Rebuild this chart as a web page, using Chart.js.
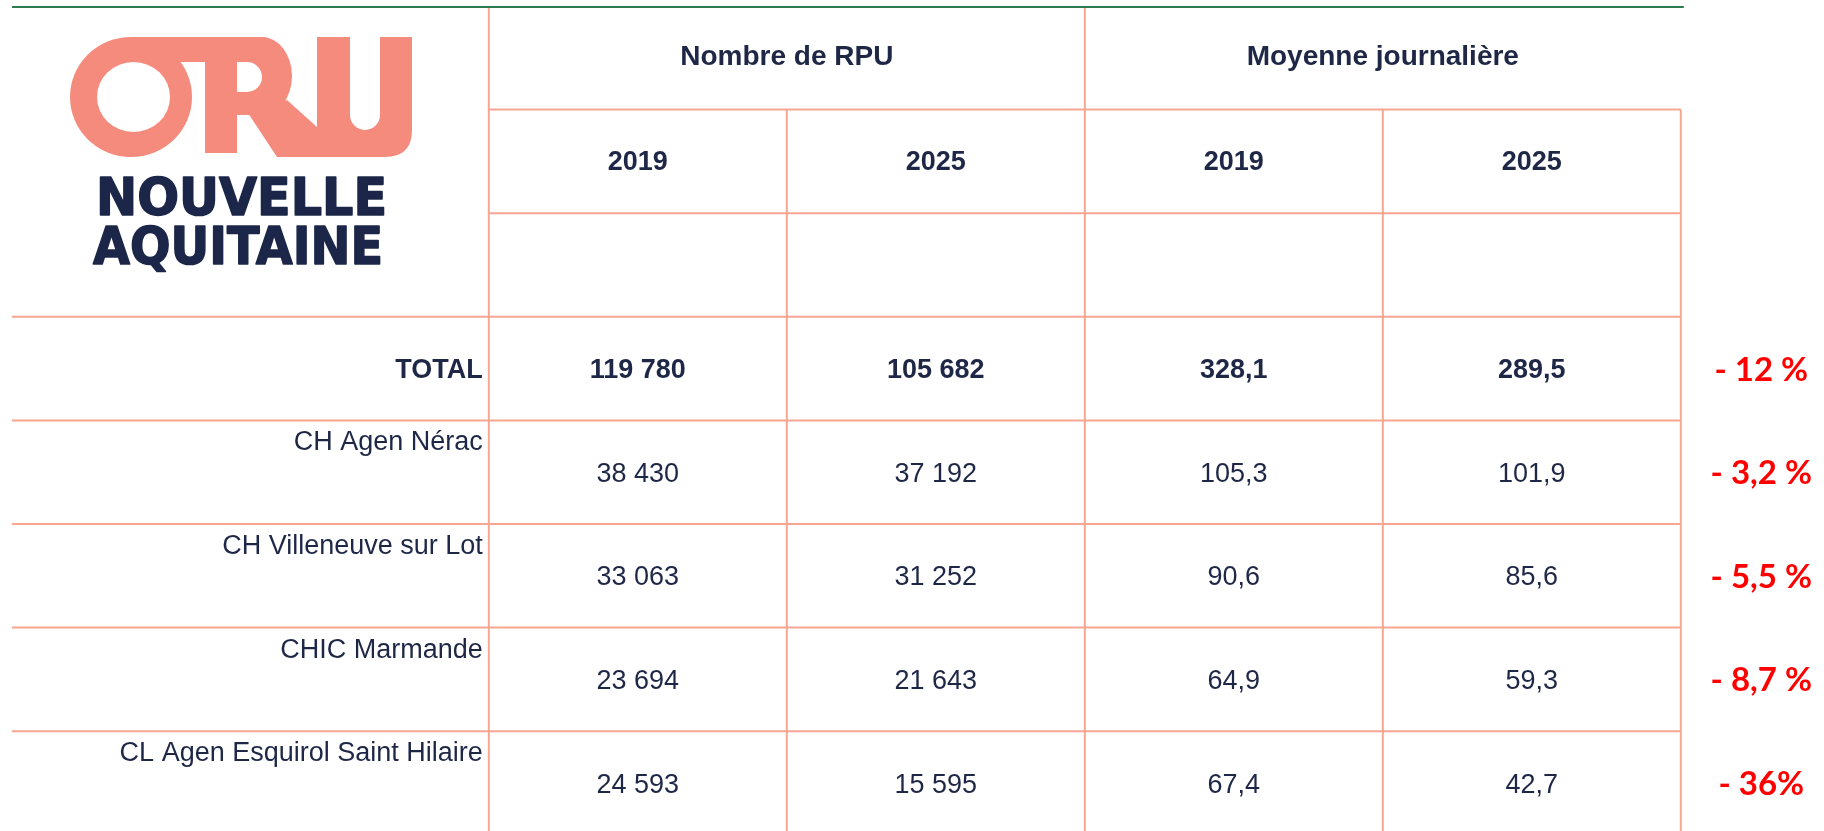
<!DOCTYPE html>
<html>
<head>
<meta charset="utf-8">
<script src="https://cdn.jsdelivr.net/npm/chart.js@4.4.1/dist/chart.umd.min.js"></script>
<style>
  html, body { margin: 0; padding: 0; background: #fff; }
  #tbl { display: block; }
</style>
</head>
<body>
<canvas id="tbl" width="1824" height="831"></canvas>
<script>
(function () {
  "use strict";

  /* ── Data ── */
  const groups = ['Nombre de RPU', 'Moyenne journalière'];
  const years = ['2019', '2025'];
  const rowLabels = ['TOTAL', 'CH Agen Nérac', 'CH Villeneuve sur Lot', 'CHIC Marmande', 'CL Agen Esquirol Saint Hilaire'];
  const rpu2019 = [119780, 38430, 33063, 23694, 24593];
  const rpu2025 = [105682, 37192, 31252, 21643, 15595];
  const moy2019 = [328.1, 105.3, 90.6, 64.9, 67.4];
  const moy2025 = [289.5, 101.9, 85.6, 59.3, 42.7];
  const evolution = ['- 12 %', '- 3,2 %', '- 5,5 %', '- 8,7 %', '- 36%'];

  /* ── Layout (scale units: one value column = 1, one row = 1) ── */
  const colEdges = [0, 1.6, 2.6, 3.6, 4.6, 5.6];
  const evoCol = 5.87;
  const bodyTop = 3;           // rows 0-2 are the header block
  const COL_PX = 298, ROW_PX = 103.6;

  const FONT = '"Liberation Sans", Arial, sans-serif';
  const NAVY = '#1e2746';
  const GRID = '#f8a592';
  const SALMON = '#f58b7d';
  const LOGO_NAVY = '#1b2648';

  /* ── Helpers ── */
  function fmtInt(v) { return String(v).replace(/\B(?=(\d{3})+(?!\d))/g, ' '); }
  function fmtDec(v) { return v.toFixed(1).replace('.', ','); }
  function colCenter(i) { return (colEdges[i] + colEdges[i + 1]) / 2; }

  function cellPoints(col) {
    return rowLabels.map((_, i) => ({ x: col, y: bodyTop + i + 0.5 }));
  }

  function textMid(ctx, str, x, yMid, size, weight, color, align) {
    ctx.font = weight + ' ' + size + 'px ' + FONT;
    ctx.fillStyle = color;
    ctx.textAlign = align;
    ctx.textBaseline = 'alphabetic';
    ctx.fillText(str, x, yMid + size * 0.716 / 2);
  }

  function fitText(ctx, str, x0, x1, baseline, font, color) {
    ctx.save();
    ctx.font = font;
    ctx.fillStyle = color;
    ctx.strokeStyle = color;
    ctx.lineWidth = 1.6;
    ctx.lineJoin = 'round';
    ctx.textAlign = 'left';
    ctx.textBaseline = 'alphabetic';
    const w = ctx.measureText(str).width;
    ctx.translate(x0, baseline);
    ctx.scale((x1 - x0) / w, 1);
    ctx.fillText(str, 0, 0);
    ctx.strokeText(str, 0, 0);
    ctx.restore();
  }

  /* ── Logo ── */
  function drawLogo(ctx) {
    ctx.save();
    ctx.fillStyle = SALMON;
    ctx.beginPath(); ctx.ellipse(131, 97, 61, 60, 0, 0, Math.PI * 2); ctx.fill();
    ctx.fillRect(131, 37, 135, 25);
    ctx.fillRect(205, 37, 32, 116);
    ctx.beginPath();
    ctx.moveTo(237, 37); ctx.lineTo(262, 37);
    ctx.ellipse(262, 76, 30, 39, 0, -Math.PI / 2, Math.PI / 2);
    ctx.lineTo(237, 115); ctx.closePath(); ctx.fill();
    ctx.beginPath();
    ctx.moveTo(246, 110); ctx.lineTo(287, 100); ctx.lineTo(317, 127);
    ctx.lineTo(317, 157); ctx.lineTo(277, 157); ctx.closePath(); ctx.fill();
    ctx.beginPath();
    ctx.moveTo(317, 37); ctx.lineTo(412, 37); ctx.lineTo(412, 130);
    ctx.quadraticCurveTo(412, 157, 385, 157); ctx.lineTo(317, 157); ctx.closePath(); ctx.fill();

    ctx.fillStyle = '#fff';
    ctx.beginPath(); ctx.ellipse(133.5, 97, 36.5, 35, 0, 0, Math.PI * 2); ctx.fill();
    ctx.beginPath();
    ctx.moveTo(237, 62); ctx.lineTo(247, 62);
    ctx.arc(247, 77, 15, -Math.PI / 2, Math.PI / 2);
    ctx.lineTo(237, 92); ctx.closePath(); ctx.fill();
    ctx.beginPath();
    ctx.moveTo(350, 30); ctx.lineTo(380, 30); ctx.lineTo(380, 115);
    ctx.arc(365, 115, 15, 0, Math.PI);
    ctx.closePath(); ctx.fill();
    ctx.restore();

    fitText(ctx, 'NOUVELLE', 96, 387, 215, 'bold 51px "DejaVu Sans"', LOGO_NAVY);
    fitText(ctx, 'AQUITAINE', 93, 383, 264, 'bold 51px "DejaVu Sans"', LOGO_NAVY);
  }

  /* ── Grid + headers + row labels ── */
  const tablePlugin = {
    id: 'tablePlugin',
    afterDraw(chart) {
      const ctx = chart.ctx;
      const xs = chart.scales.x, ys = chart.scales.y;
      const X = v => xs.getPixelForValue(v);
      const Y = v => ys.getPixelForValue(v);
      const last = colEdges.length - 1;

      ctx.save();
      ctx.lineWidth = 2;
      ctx.strokeStyle = GRID;
      function hline(r, c0, c1) {
        ctx.beginPath(); ctx.moveTo(X(c0), Y(r)); ctx.lineTo(X(c1), Y(r)); ctx.stroke();
      }
      function vline(c, r0) {
        ctx.beginPath(); ctx.moveTo(X(c), Y(r0)); ctx.lineTo(X(c), chart.chartArea.bottom); ctx.stroke();
      }
      hline(1, colEdges[1], colEdges[last]);
      hline(2, colEdges[1], colEdges[last]);
      for (let r = bodyTop; r <= bodyTop + rowLabels.length; r++) hline(r, colEdges[0], colEdges[last]);
      vline(colEdges[1], 0);
      vline(colEdges[3], 0);
      vline(colEdges[2], 1);
      vline(colEdges[4], 1);
      vline(colEdges[5], 1);

      // top green rule
      ctx.strokeStyle = '#2e7b50';
      ctx.lineWidth = 2;
      ctx.beginPath(); ctx.moveTo(X(0), Y(0) + 1); ctx.lineTo(X(colEdges[last]) + 3, Y(0) + 1); ctx.stroke();

      // group headers
      groups.forEach((g, i) => {
        const c = (colEdges[1 + i * 2] + colEdges[3 + i * 2]) / 2;
        textMid(ctx, g, X(c), Y(0.5) - 3, 28, 'bold', NAVY, 'center');
        years.forEach((yr, j) => {
          textMid(ctx, yr, X(colCenter(1 + i * 2 + j)), Y(1.5) - 1.5, 27, 'bold', NAVY, 'center');
        });
      });

      // row labels
      rowLabels.forEach((lab, i) => {
        const xr = X(colEdges[1]) - 6;
        if (i === 0) {
          textMid(ctx, lab, xr, Y(bodyTop + 0.5), 27, 'bold', NAVY, 'right');
        } else {
          ctx.font = '27px ' + FONT;
          ctx.fillStyle = NAVY;
          ctx.textAlign = 'right';
          ctx.textBaseline = 'alphabetic';
          ctx.fillText(lab, xr, Y(bodyTop + i) + 30);
        }
      });

      // cell values, placed on the scatter points
      chart.data.datasets.forEach((ds, di) => {
        const meta = chart.getDatasetMeta(di);
        meta.data.forEach((pt, j) => {
          if (ds.isEvolution) {
            ctx.font = 'bold 33px Lato, "Open Sans", sans-serif';
            ctx.fillStyle = '#ff0000';
            ctx.textAlign = 'center';
            ctx.textBaseline = 'alphabetic';
            ctx.fillText(ds.cellText[j], pt.x, pt.y + 12);
          } else {
            textMid(ctx, ds.cellText[j], pt.x, pt.y, 27, j === 0 ? 'bold' : 'normal', NAVY, 'center');
          }
        });
      });
      ctx.restore();

      drawLogo(ctx);
    }
  };

  function ds(label, col, texts, extra) {
    return Object.assign({ label: label, data: cellPoints(col), cellText: texts, pointRadius: 0, pointHoverRadius: 0 }, extra || {});
  }

  new Chart(document.getElementById('tbl'), {
    type: 'scatter',
    data: {
      datasets: [
        ds('Nombre de RPU 2019', colCenter(1), rpu2019.map(fmtInt)),
        ds('Nombre de RPU 2025', colCenter(2), rpu2025.map(fmtInt)),
        ds('Moyenne journalière 2019', colCenter(3), moy2019.map(fmtDec)),
        ds('Moyenne journalière 2025', colCenter(4), moy2025.map(fmtDec)),
        ds('Évolution', evoCol, evolution, { isEvolution: true })
      ]
    },
    options: {
      responsive: false, animation: false, devicePixelRatio: 1,
      layout: { padding: { left: 12, top: 6, right: 0, bottom: 0 } },
      plugins: { legend: { display: false }, tooltip: { enabled: false } },
      events: [],
      scales: {
        x: { type: 'linear', display: false, min: 0, max: (1824 - 12) / COL_PX },
        y: { type: 'linear', display: false, reverse: true, min: 0, max: (831 - 6) / ROW_PX }
      }
    },
    plugins: [tablePlugin]
  });
})();
</script>
</body>
</html>
